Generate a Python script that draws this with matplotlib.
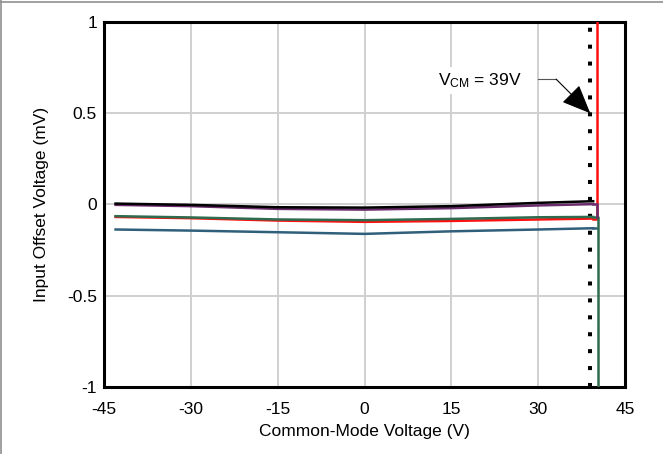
import numpy as np
import matplotlib.pyplot as plt
from matplotlib.lines import Line2D

plt.rcParams['font.family'] = ['Liberation Sans', 'DejaVu Sans']
plt.rcParams['axes.unicode_minus'] = False

# Curves (Common-mode voltage in V, offset in mV)
x_curve = [-43, -30, -15, 0, 15, 30, 39.5]
black_y = [0.005, -0.002, -0.015, -0.017, -0.009, 0.009, 0.018]
purple_y = [-0.002, -0.009, -0.024, -0.028, -0.02, -0.005, 0.002]
green_y = [-0.064, -0.071, -0.082, -0.086, -0.079, -0.07, -0.068]
red_y = [-0.068, -0.075, -0.088, -0.095, -0.09, -0.082, -0.077]
blue_y = [-0.137, -0.143, -0.152, -0.161, -0.147, -0.137, -0.13]

# vertical tails at the upper limit of the common-mode range
red_tail_x, red_tail_y = [39.5, 40.2, 40.2], [-0.077, -0.077, 1.0]
purple_tail_x, purple_tail_y = [39.5, 40.1, 40.1], [0.002, 0.002, -0.07]
green_tail_x, green_tail_y = [39.5, 40.4, 40.4], [-0.068, -0.068, -1.0]
blue_tail_x, blue_tail_y = [39.5, 40.1], [-0.13, -0.13]

vcm_limit = 39
xticks = [-45, -30, -15, 0, 15, 30, 45]
yticks = [-1, -0.5, 0, 0.5, 1]
ytick_labels = ['-1', '-0.5', '0', '0.5', '1']

fig = plt.figure(figsize=(6.63, 4.54), dpi=100)
ax = fig.add_axes([104 / 663, 1 - 387 / 454, (625 - 104) / 663, (387 - 22) / 454])

# border lines on top and left of the figure
fig.add_artist(Line2D([0, 1], [0.996, 0.996], transform=fig.transFigure, color='#909090', lw=1.2))
fig.add_artist(Line2D([0.002, 0.002], [0, 1], transform=fig.transFigure, color='#909090', lw=1.2))

ax.set_xlim(-45, 45)
ax.set_ylim(-1, 1)
ax.set_xticks(xticks)
ax.set_yticks(yticks)
ax.set_yticklabels(ytick_labels)
ax.grid(True, color='#d0d0d0', lw=1.4)
ax.set_axisbelow(True)
ax.tick_params(length=0, labelsize=12.5)
ax.tick_params(axis='x', pad=11)
ax.tick_params(axis='y', pad=5)
for s in ax.spines.values():
    s.set_linewidth(2.2)

lw = 1.8
ax.plot(red_tail_x, red_tail_y, color='#ff1010', lw=lw, zorder=3)
ax.plot(x_curve, red_y, color='#ff1010', lw=lw, zorder=3)
ax.plot(green_tail_x, green_tail_y, color='#2e6b4f', lw=lw, zorder=4)
ax.plot(x_curve, green_y, color='#2e6b4f', lw=lw, zorder=4)
ax.plot(blue_tail_x, blue_tail_y, color='#2f5f7a', lw=lw, zorder=3)
ax.plot(x_curve, blue_y, color='#2f5f7a', lw=lw, zorder=3)
ax.plot(purple_tail_x, purple_tail_y, color='#6a2c6a', lw=lw, zorder=4)
ax.plot(x_curve, purple_y, color='#6a2c6a', lw=lw, zorder=4)
ax.plot(x_curve, black_y, color='black', lw=lw, zorder=5)

ax.axvline(vcm_limit, color='black', lw=2.9, linestyle=(0, (1, 3.2)),
           dash_capstyle='butt', zorder=2)

ax.text(19.9, 0.68, '$\\mathregular{V_{CM}}$ = 39V', ha='center', va='center',
        fontsize=12.5, zorder=6,
        bbox=dict(facecolor='white', edgecolor='none', pad=3))
ax.plot([30.0, 33.1], [0.687, 0.687], color='#555555', lw=0.8, zorder=6)
ax.annotate('', xy=(vcm_limit, 0.5), xytext=(33.1, 0.687),
            arrowprops=dict(arrowstyle='-|>,head_length=1.3,head_width=0.55',
                            mutation_scale=14, color='black', lw=0.8,
                            shrinkA=0, shrinkB=0), zorder=6)

ax.set_xlabel('Common-Mode Voltage (V)', fontsize=12.5, labelpad=5)
ax.set_ylabel('Input Offset Voltage (mV)', fontsize=12.5, labelpad=13)

fig.savefig('out.png', dpi=100)
